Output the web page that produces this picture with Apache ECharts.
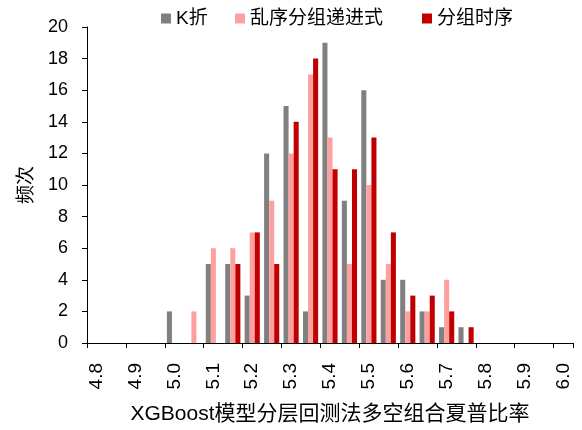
<!DOCTYPE html>
<html>
<head>
<meta charset="utf-8">
<script src="https://cdn.jsdelivr.net/npm/echarts@6/dist/echarts.min.js"></script>
<style>
  html, body { margin: 0; padding: 0; background: #fff; }
  #chart { width: 582px; height: 430px; }
</style>
</head>
<body>
<div id="chart"></div>
<script>
// 分箱（每 0.05 一组），标签隔一个显示
var categories = ['4.8', '4.85', '4.9', '4.95', '5.0', '5.05', '5.1', '5.15', '5.2', '5.25',
  '5.3', '5.35', '5.4', '5.45', '5.5', '5.55', '5.6', '5.65', '5.7', '5.75',
  '5.8', '5.85', '5.9', '5.95', '6.0'];
var seriesNames = ['K折', '乱序分组递进式', '分组时序'];
var kfold = [0, 0, 0, 0, 2, 0, 5, 5, 3, 12, 15, 2, 19, 9, 16, 4, 4, 2, 1, 1, 0, 0, 0, 0, 0];
var shuffled = [0, 0, 0, 0, 0, 2, 6, 6, 7, 9, 12, 17, 13, 5, 10, 5, 2, 2, 4, 0, 0, 0, 0, 0, 0];
var timeSeq = [0, 0, 0, 0, 0, 0, 0, 5, 7, 5, 14, 18, 11, 11, 13, 7, 3, 3, 2, 1, 0, 0, 0, 0, 0];
var yTicks = [0, 2, 4, 6, 8, 10, 12, 14, 16, 18, 20];

var colors = ['#808080', '#FFA0A0', '#C00000'];
var font = '"Liberation Sans", "Noto Sans CJK SC", sans-serif';
var legendLeft = [156, 230, 417]; // 三个图例分开摆放

var myChart = echarts.init(document.getElementById('chart'));

var legends = seriesNames.map(function (name, i) {
  return {
    left: legendLeft[i],
    top: 4,
    itemWidth: 10,
    itemHeight: 10,
    icon: 'rect',
    data: [name],
    textStyle: { fontSize: 19, color: '#000', fontFamily: font }
  };
});

var bars = seriesNames.map(function (name, i) {
  return {
    name: name,
    type: 'bar',
    data: [kfold, shuffled, timeSeq][i],
    barGap: '0%',
    barCategoryGap: '22%',
    itemStyle: { color: colors[i] }
  };
});

var option = {
  animation: false,
  textStyle: { fontFamily: font },
  legend: legends,
  grid: {
    left: 87,
    right: 9,
    top: 27,
    bottom: 87
  },
  xAxis: {
    type: 'category',
    data: categories,
    boundaryGap: true,
    name: 'XGBoost模型分层回测法多空组合夏普比率',
    nameLocation: 'middle',
    nameGap: 61,
    nameTextStyle: { fontSize: 21, color: '#000', fontFamily: font },
    axisLine: { lineStyle: { color: '#000', width: 1 } },
    axisTick: { show: true, interval: 1, length: 5, lineStyle: { color: '#000' } },
    axisLabel: { interval: 1, rotate: 90, margin: 20, fontSize: 19, color: '#000' },
    splitLine: { show: false }
  },
  yAxis: {
    type: 'value',
    min: yTicks[0],
    max: yTicks[yTicks.length - 1],
    interval: 2,
    name: '频次',
    nameLocation: 'middle',
    nameRotate: 90,
    nameGap: 51,
    nameTextStyle: { fontSize: 19, color: '#000', fontFamily: font },
    axisLine: { show: true, lineStyle: { color: '#000', width: 1 } },
    axisTick: { show: true, length: 5, lineStyle: { color: '#000' } },
    axisLabel: { fontSize: 18, color: '#000', margin: 19 },
    splitLine: { show: false }
  },
  series: bars
};
myChart.setOption(option);
</script>
</body>
</html>
